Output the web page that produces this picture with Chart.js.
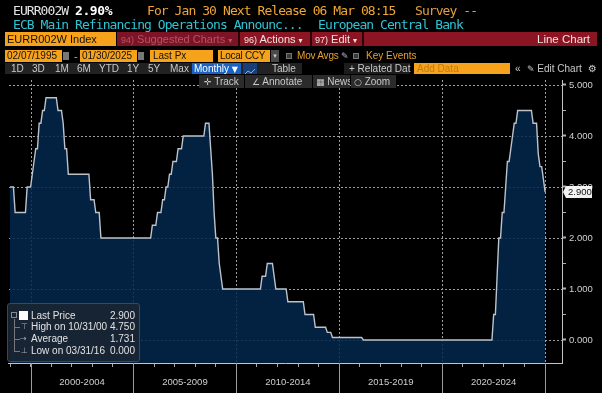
<!DOCTYPE html>
<html>
<head>
<meta charset="utf-8">
<script src="https://cdn.jsdelivr.net/npm/chart.js@4.4.1/dist/chart.umd.min.js"></script>
<style>
  body { margin: 0; background: #000; width: 602px; height: 393px; overflow: hidden; position: relative;
         font-family: 'Liberation Sans', Arial, sans-serif; }
  canvas { position: absolute; left: 0; top: 0; }
  .t { position: absolute; white-space: nowrap; z-index: 2; }
  .mono { font-family: 'DejaVu Sans Mono', monospace; font-size: 13px; line-height: 13px; letter-spacing: -0.93px; }
  .bx { position: absolute; white-space: nowrap; z-index: 2; box-sizing: border-box; overflow: hidden; }
  .or { background: #f7a21b; color: #111; }
  .tb { color: #c9c9c9; font-size: 10px; line-height: 11px; }
  .sym { font-family: 'DejaVu Sans', sans-serif; }
  .lg { position: absolute; z-index: 3; font-size: 10px; line-height: 12px; color: #e2e2e2; white-space: nowrap; }
</style>
</head>
<body>
<canvas id="rateChart" width="602" height="393"></canvas>

<!-- header lines -->
<div class="t mono" style="left:13px;top:4px;color:#e4e4e4">EURR002W</div>
<div class="t mono" style="left:75px;top:4px;color:#fff;font-weight:bold;letter-spacing:-0.4px">2.90%</div>
<div class="t mono" style="left:147px;top:4px;color:#eea43a">For Jan 30</div>
<div class="t mono" style="left:223px;top:4px;color:#f0a830">Next Release 06 Mar 08:15</div>
<div class="t mono" style="left:415px;top:4px;color:#e0a040">Survey --</div>
<div class="t mono" style="left:13px;top:18px;color:#2ec4d4">ECB Main Refinancing Operations Announc...</div>
<div class="t mono" style="left:318px;top:18px;color:#2ec4d4">European Central Bank</div>

<!-- red toolbar -->
<div class="bx or" style="left:5px;top:32px;width:111px;height:14px;font-size:11px;line-height:14px;padding-left:2px">EURR002W Index</div>
<div class="bx" style="left:117px;top:32px;width:480px;height:14px;background:#8c1523"></div>
<div class="bx" style="left:117px;top:32px;width:121px;height:14px;background:#7d1425"></div>
<div class="t" style="left:121px;top:32px;font-size:11px;line-height:14px;color:#b45468"><span style="font-size:9px">94)</span> Suggested Charts <span class="sym" style="font-size:8px">▾</span></div>
<div class="bx" style="left:238px;top:32px;width:2px;height:14px;background:#2a0508"></div>
<div class="t" style="left:244px;top:32px;font-size:11px;line-height:14px;color:#f0e2e2"><span style="font-size:9px">96)</span> Actions <span class="sym" style="font-size:8px">▾</span></div>
<div class="bx" style="left:310px;top:32px;width:2px;height:14px;background:#2a0508"></div>
<div class="t" style="left:315px;top:32px;font-size:11px;line-height:14px;color:#f0e2e2"><span style="font-size:9px">97)</span> Edit <span class="sym" style="font-size:8px">▾</span></div>
<div class="bx" style="left:362px;top:32px;width:2px;height:14px;background:#2a0508"></div>
<div class="t" style="left:537px;top:32px;font-size:11.5px;line-height:14px;color:#f0e2e2">Line Chart</div>

<!-- date row -->
<div class="bx or" style="left:5px;top:50px;width:57px;height:12px;font-size:10px;line-height:12px;padding-left:2px">02/07/1995</div>
<div class="bx" style="left:63px;top:52px;width:6px;height:8px;background:#777"></div>
<div class="t" style="left:74px;top:50px;font-size:11px;line-height:12px;color:#f0a830">-</div>
<div class="bx or" style="left:80px;top:50px;width:57px;height:12px;font-size:10px;line-height:12px;padding-left:2px">01/30/2025</div>
<div class="bx" style="left:138px;top:52px;width:6px;height:8px;background:#777"></div>
<div class="bx or" style="left:150px;top:50px;width:63px;height:12px;font-size:10px;line-height:12px;padding-left:3px">Last Px</div>
<div class="bx or" style="left:218px;top:50px;width:52px;height:12px;font-size:10px;line-height:12px;padding-left:2px;letter-spacing:-0.3px">Local CCY</div>
<div class="bx sym" style="left:271px;top:50px;width:8px;height:12px;background:#4a4a4a;color:#ccc;font-size:7px;line-height:12px;text-align:center">▾</div>
<div class="bx" style="left:286px;top:53px;width:6px;height:6px;background:#3a3a3a;border:1px solid #777"></div>
<div class="t" style="left:297px;top:50px;font-size:10px;line-height:12px;color:#e8a030;letter-spacing:-0.2px">Mov Avgs</div>
<div class="t sym" style="left:341px;top:50px;font-size:9px;line-height:12px;color:#bbb">✎</div>
<div class="bx" style="left:353px;top:53px;width:6px;height:6px;background:#3a3a3a;border:1px solid #777"></div>
<div class="t" style="left:366px;top:50px;font-size:10px;line-height:12px;color:#e8a030">Key Events</div>

<!-- period row -->
<div class="bx" style="left:5px;top:63px;width:297px;height:11px;background:#222"></div>
<div class="t tb" style="left:11px;top:63px">1D</div>
<div class="t tb" style="left:32px;top:63px">3D</div>
<div class="t tb" style="left:55px;top:63px">1M</div>
<div class="t tb" style="left:77px;top:63px">6M</div>
<div class="t tb" style="left:99px;top:63px">YTD</div>
<div class="t tb" style="left:127px;top:63px">1Y</div>
<div class="t tb" style="left:148px;top:63px">5Y</div>
<div class="t tb" style="left:170px;top:63px">Max</div>
<div class="bx" style="left:192px;top:63px;width:49px;height:11px;background:#1a63c4;color:#fff;font-size:10px;line-height:11px;padding-left:2px">Monthly <span class="sym" style="font-size:8px">▼</span></div>
<div class="bx" style="left:243px;top:63px;width:14px;height:11px;background:#17407a">
  <svg width="14" height="11"><polyline points="2,8 5,5 8,7 12,3" fill="none" stroke="#7fb0f0" stroke-width="1"/><line x1="2" y1="9.5" x2="12" y2="9.5" stroke="#7fb0f0"/></svg>
</div>
<div class="t tb" style="left:272px;top:63px">Table</div>
<div class="bx" style="left:344px;top:63px;width:66px;height:11px;background:#1c1c1c"></div>
<div class="t tb" style="left:349px;top:63px">+ Related Dat</div>
<div class="bx" style="left:414px;top:63px;width:96px;height:11px;background:#f7a21b;color:#c27a12;font-size:10px;line-height:11px;padding-left:3px">Add Data</div>
<div class="t tb" style="left:515px;top:63px">«</div>
<div class="t tb" style="left:527px;top:63px"><span class="sym" style="font-size:9px">✎</span> Edit Chart</div>
<div class="t tb sym" style="left:588px;top:63px;font-size:10px">⚙</div>

<!-- track row -->
<div class="bx tb" style="left:199px;top:75px;width:45px;height:13px;background:#2b2b2b;line-height:13px;padding-left:5px"><span class="sym" style="font-size:9px">✛</span> Track</div>
<div class="bx tb" style="left:245px;top:75px;width:67px;height:13px;background:#2b2b2b;line-height:13px;padding-left:7px"><span class="sym" style="font-size:9px">∠</span> Annotate</div>
<div class="bx tb" style="left:313px;top:75px;width:37px;height:13px;background:#2b2b2b;line-height:13px;padding-left:3px"><span class="sym" style="font-size:9px">▦</span> News</div>
<div class="bx tb" style="left:351px;top:75px;width:45px;height:13px;background:#2b2b2b;line-height:13px;padding-left:3px"><span class="sym" style="font-size:9px">○</span> Zoom</div>

<!-- stats box -->
<div class="bx" style="left:7px;top:303px;width:133px;height:59px;background:rgba(26,36,50,0.88);border:1px solid #3c4858;border-radius:3px"></div>
<div class="bx" style="left:11px;top:312px;width:6px;height:6px;border:1px solid #888;z-index:3"></div>
<div class="bx" style="left:14px;top:319px;width:1px;height:32px;background:#777;z-index:3"></div>
<div class="bx" style="left:14px;top:327px;width:6px;height:1px;background:#777;z-index:3"></div>
<div class="bx" style="left:14px;top:339px;width:6px;height:1px;background:#777;z-index:3"></div>
<div class="bx" style="left:14px;top:351px;width:6px;height:1px;background:#777;z-index:3"></div>
<div class="bx" style="left:19px;top:311px;width:9px;height:9px;background:#fff;z-index:3"></div>
<div class="lg sym" style="left:21px;top:321px;font-size:8px;color:#aaa">⊤</div>
<div class="lg sym" style="left:20px;top:333px;font-size:8px;color:#aaa">→</div>
<div class="lg sym" style="left:21px;top:345px;font-size:8px;color:#aaa">⊥</div>
<div class="lg" style="left:31px;top:310px">Last Price</div>
<div class="lg" style="left:31px;top:321px">High on 10/31/00</div>
<div class="lg" style="left:31px;top:333px">Average</div>
<div class="lg" style="left:31px;top:345px">Low on 03/31/16</div>
<div class="lg" style="right:467px;top:310px">2.900</div>
<div class="lg" style="right:467px;top:321px">4.750</div>
<div class="lg" style="right:467px;top:333px">1.731</div>
<div class="lg" style="right:467px;top:345px">0.000</div>

<script>
// ECB main refinancing rate, monthly (month-end), Jan 1999 .. Jan 2025
const startYear = 1999;
const rates = [
  3.00, 3.00, 3.00, 2.50, 2.50, 2.50, 2.50, 2.50, 2.50, 2.50, 3.00, 3.00, // 1999
  3.00, 3.25, 3.50, 3.75, 3.75, 4.25, 4.25, 4.50, 4.50, 4.75, 4.75, 4.75, // 2000
  4.75, 4.75, 4.75, 4.75, 4.50, 4.50, 4.50, 4.25, 3.75, 3.75, 3.25, 3.25, // 2001
  3.25, 3.25, 3.25, 3.25, 3.25, 3.25, 3.25, 3.25, 3.25, 3.25, 3.25, 2.75, // 2002
  2.75, 2.75, 2.50, 2.50, 2.50, 2.00, 2.00, 2.00, 2.00, 2.00, 2.00, 2.00, // 2003
  2.00, 2.00, 2.00, 2.00, 2.00, 2.00, 2.00, 2.00, 2.00, 2.00, 2.00, 2.00, // 2004
  2.00, 2.00, 2.00, 2.00, 2.00, 2.00, 2.00, 2.00, 2.00, 2.00, 2.00, 2.25, // 2005
  2.25, 2.25, 2.50, 2.50, 2.50, 2.75, 2.75, 3.00, 3.00, 3.25, 3.25, 3.50, // 2006
  3.50, 3.50, 3.75, 3.75, 3.75, 4.00, 4.00, 4.00, 4.00, 4.00, 4.00, 4.00, // 2007
  4.00, 4.00, 4.00, 4.00, 4.00, 4.00, 4.25, 4.25, 4.25, 3.75, 3.25, 2.50, // 2008
  2.00, 2.00, 1.50, 1.25, 1.00, 1.00, 1.00, 1.00, 1.00, 1.00, 1.00, 1.00, // 2009
  1.00, 1.00, 1.00, 1.00, 1.00, 1.00, 1.00, 1.00, 1.00, 1.00, 1.00, 1.00, // 2010
  1.00, 1.00, 1.00, 1.25, 1.25, 1.25, 1.50, 1.50, 1.50, 1.50, 1.25, 1.00, // 2011
  1.00, 1.00, 1.00, 1.00, 1.00, 1.00, 0.75, 0.75, 0.75, 0.75, 0.75, 0.75, // 2012
  0.75, 0.75, 0.75, 0.75, 0.50, 0.50, 0.50, 0.50, 0.50, 0.50, 0.25, 0.25, // 2013
  0.25, 0.25, 0.25, 0.25, 0.25, 0.15, 0.15, 0.15, 0.05, 0.05, 0.05, 0.05, // 2014
  0.05, 0.05, 0.05, 0.05, 0.05, 0.05, 0.05, 0.05, 0.05, 0.05, 0.05, 0.05, // 2015
  0.05, 0.05, 0.00, 0.00, 0.00, 0.00, 0.00, 0.00, 0.00, 0.00, 0.00, 0.00, // 2016
  0.00, 0.00, 0.00, 0.00, 0.00, 0.00, 0.00, 0.00, 0.00, 0.00, 0.00, 0.00, // 2017
  0.00, 0.00, 0.00, 0.00, 0.00, 0.00, 0.00, 0.00, 0.00, 0.00, 0.00, 0.00, // 2018
  0.00, 0.00, 0.00, 0.00, 0.00, 0.00, 0.00, 0.00, 0.00, 0.00, 0.00, 0.00, // 2019
  0.00, 0.00, 0.00, 0.00, 0.00, 0.00, 0.00, 0.00, 0.00, 0.00, 0.00, 0.00, // 2020
  0.00, 0.00, 0.00, 0.00, 0.00, 0.00, 0.00, 0.00, 0.00, 0.00, 0.00, 0.00, // 2021
  0.00, 0.00, 0.00, 0.00, 0.00, 0.00, 0.50, 0.50, 1.25, 2.00, 2.00, 2.50, // 2022
  2.50, 3.00, 3.50, 3.50, 3.75, 4.00, 4.25, 4.25, 4.50, 4.50, 4.50, 4.50, // 2023
  4.50, 4.50, 4.50, 4.50, 4.50, 4.25, 4.25, 4.25, 3.65, 3.40, 3.40, 3.15, // 2024
  2.90                                                                    // 2025
];

const yTickValues = [0, 0.5, 1, 1.5, 2, 2.5, 3, 3.5, 4, 4.5, 5];
const yearTicks = [1999, 2000, 2001, 2002, 2003, 2004, 2005, 2006, 2007, 2008, 2009, 2010, 2011,
  2012, 2013, 2014, 2015, 2016, 2017, 2018, 2019, 2020, 2021, 2022, 2023, 2024, 2025];
const majorYears = [2000, 2005, 2010, 2015, 2020, 2025];
const periodCenters = [2002.5, 2007.5, 2012.5, 2017.5, 2022.5];
const periodLabels = ['2000-2004', '2005-2009', '2010-2014', '2015-2019', '2020-2024'];

const points = rates.map((v, i) => ({ x: startYear + i / 12, y: v }));
const lastValue = rates[rates.length - 1];

// dotted grid under the area, long 5-year ticks, last price tag
const extras = {
  id: 'extras',
  beforeDatasetsDraw(chart) {
    const { ctx, chartArea } = chart;
    const x = chart.scales.x, y = chart.scales.y;
    ctx.save();
    ctx.strokeStyle = '#a0a0a0';
    ctx.lineWidth = 1;
    ctx.setLineDash([2, 2]);
    majorYears.forEach(v => {
      const px = Math.round(x.getPixelForValue(v)) + 0.5;
      ctx.beginPath();
      ctx.moveTo(px, chartArea.top);
      ctx.lineTo(px, chartArea.bottom);
      ctx.stroke();
    });
    yTickValues.filter(v => v % 1 === 0).forEach(v => {
      const py = Math.round(y.getPixelForValue(v)) + 0.5;
      ctx.beginPath();
      ctx.moveTo(chartArea.left, py);
      ctx.lineTo(chartArea.right, py);
      ctx.stroke();
    });
    ctx.restore();
  },
  afterDraw(chart) {
    const { ctx, chartArea } = chart;
    const x = chart.scales.x, y = chart.scales.y;
    ctx.save();
    ctx.strokeStyle = '#9c9c9c';
    ctx.lineWidth = 1;
    majorYears.forEach(v => {
      const px = Math.round(x.getPixelForValue(v)) + 0.5;
      ctx.beginPath();
      ctx.moveTo(px, chartArea.bottom);
      ctx.lineTo(px, chart.height);
      ctx.stroke();
    });

    const py = Math.round(y.getPixelForValue(lastValue));
    ctx.fillStyle = '#f2f2f2';
    ctx.beginPath();
    ctx.moveTo(chartArea.right + 1, py);
    ctx.lineTo(chartArea.right + 4, py - 6);
    ctx.lineTo(chartArea.right + 30, py - 6);
    ctx.lineTo(chartArea.right + 30, py + 6);
    ctx.lineTo(chartArea.right + 4, py + 6);
    ctx.closePath();
    ctx.fill();
    ctx.fillStyle = '#111';
    ctx.font = '9.5px "Liberation Sans"';
    ctx.textBaseline = 'middle';
    ctx.fillText(lastValue.toFixed(3), chartArea.right + 6, py + 0.5);
    ctx.restore();
  }
};

const ctx = document.getElementById('rateChart');

new Chart(ctx, {
  type: 'line',
  data: {
    datasets: [{
      data: points,
      borderColor: '#bcc3ca',
      borderWidth: 1.4,
      backgroundColor: 'rgba(4, 38, 75, 0.86)',
      fill: 'start',
      pointRadius: 0,
      tension: 0
    }]
  },
  options: {
    responsive: false,
    animation: false,
    devicePixelRatio: 1,
    layout: { padding: { left: 4, top: 80, right: 0, bottom: 0 } },
    plugins: {
      legend: { display: false },
      tooltip: { enabled: false }
    },
    scales: {
      x: {
        type: 'linear',
        min: 1998.95,
        max: 2025.82,
        afterBuildTicks: axis => {
          axis.ticks = yearTicks.concat(periodCenters).sort((a, b) => a - b).map(v => ({ value: v }));
        },
        afterFit: axis => { axis.height = 30; },
        grid: {
          drawOnChartArea: false,
          tickColor: c => (c.tick && periodCenters.includes(c.tick.value)) ? 'transparent' : '#a8a8a8',
          tickLength: 4
        },
        border: { color: '#c4c4c4' },
        ticks: {
          autoSkip: false,
          maxRotation: 0,
          padding: 10,
          color: '#cfcfcf',
          font: { family: 'Liberation Sans', size: 9.5 },
          callback: v => {
            const k = periodCenters.indexOf(v);
            return k >= 0 ? periodLabels[k] : '';
          }
        }
      },
      y: {
        position: 'right',
        min: -0.451,
        max: 5.098,
        afterBuildTicks: axis => { axis.ticks = yTickValues.map(v => ({ value: v })); },
        afterFit: axis => { axis.width = 40; },
        grid: {
          drawOnChartArea: false,
          tickColor: '#b0b0b0',
          tickWidth: c => (c.tick && c.tick.value % 1 === 0) ? 2 : 1,
          tickLength: 4
        },
        border: { color: '#c4c4c4' },
        ticks: {
          padding: 3,
          color: '#d0d0d0',
          font: { family: 'Liberation Sans', size: 9.5 },
          callback: v => v % 1 === 0 ? v.toFixed(3) : ''
        }
      }
    }
  },
  plugins: [extras]
});
</script>
</body>
</html>
